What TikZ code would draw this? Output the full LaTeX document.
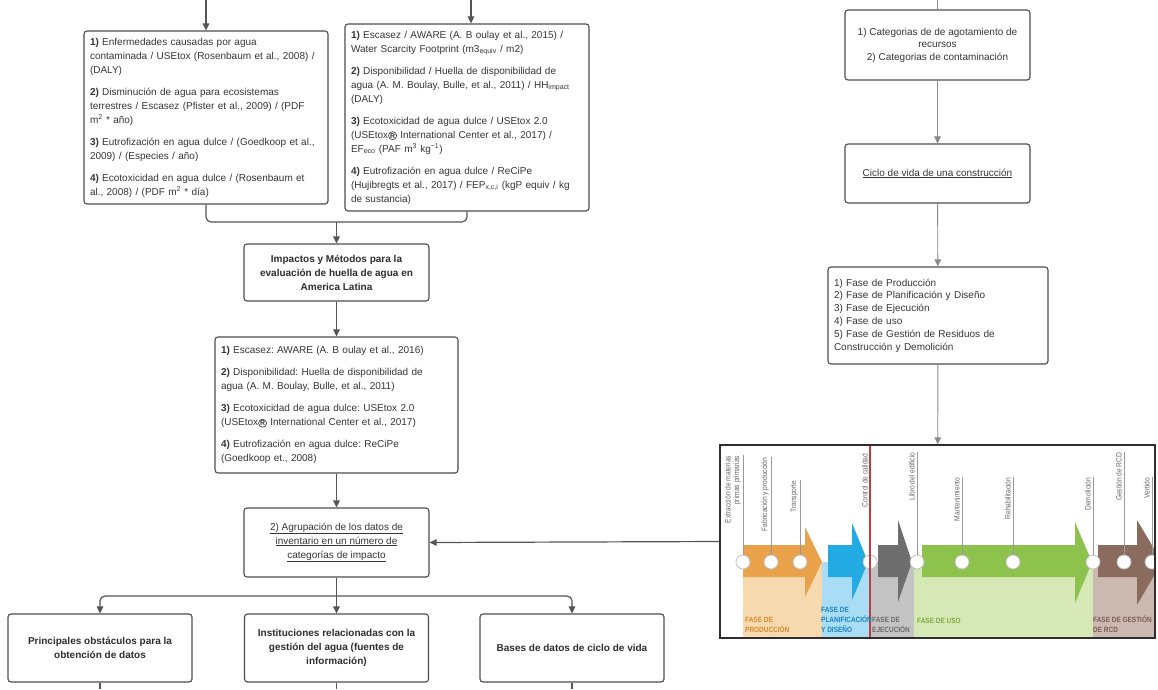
\documentclass[tikz,border=0pt]{standalone}
\usepackage{fontspec}
\setmainfont{Liberation Sans}
\newfontfamily\condfnt[FakeStretch=0.85]{Liberation Sans}
\usetikzlibrary{arrows.meta}

\definecolor{ink}{HTML}{363636}
\definecolor{boxline}{HTML}{4D4D4D}
\definecolor{conn}{HTML}{555555}
\definecolor{connlight}{HTML}{8A8A8A}
\definecolor{frameline}{HTML}{2E2E2E}
\definecolor{orangeA}{HTML}{E9A24A}
\definecolor{orangeL}{HTML}{F7D9B0}
\definecolor{orangeT}{HTML}{D98A2B}
\definecolor{blueA}{HTML}{22AAE2}
\definecolor{blueL}{HTML}{A8DDF5}
\definecolor{blueT}{HTML}{1A84C0}
\definecolor{greyA}{HTML}{6E6E6E}
\definecolor{greyL}{HTML}{C3C3C3}
\definecolor{greyT}{HTML}{6A6A6A}
\definecolor{greenA}{HTML}{8DC24C}
\definecolor{greenL}{HTML}{D5E8B6}
\definecolor{greenT}{HTML}{7DAE3E}
\definecolor{brownA}{HTML}{8A6B5E}
\definecolor{brownL}{HTML}{CBB8B1}
\definecolor{brownT}{HTML}{7A5E52}
\definecolor{redline}{HTML}{C43A3A}
\definecolor{tickc}{HTML}{9A9A9A}
\definecolor{labc}{HTML}{666666}

\newcommand{\flowfont}{\fontsize{10}{14}\selectfont}
% registered mark drawn as a circled bold R
\newcommand{\regmark}{\tikz[baseline=(rmk.base)]\node[circle, draw=ink, line width=0.6pt,
  minimum width=0pt, minimum height=0pt, text width={}, align=center, rounded corners=0pt,
  fill=none, inner sep=0.4pt, outer sep=0pt, font=\fontsize{7}{7}\selectfont\bfseries, text=ink] (rmk) {R};}

\begin{document}
\frenchspacing
\begin{tikzpicture}[x=1pt,y=-1pt,
  box/.style={draw=boxline, line width=1.1pt, rounded corners=3pt, fill=white,
    text=ink, font=\flowfont, inner ysep=3pt},
  lbox/.style={box, align=left, inner xsep=6pt},
  cbox/.style={box, align=center, inner xsep=4pt},
  titlebox/.style={cbox, font=\flowfont\bfseries, text=ink!85!black},
  arr/.style={draw=conn, line width=1.2pt, -{Triangle[length=7pt,width=6.5pt]}},
  link/.style={draw=conn, line width=1.2pt, rounded corners=5pt},
  rarr/.style={draw=connlight, line width=0.9pt, -{Triangle[length=7pt,width=6.5pt]}},
  rlink/.style={draw=connlight, line width=0.9pt},
  dot/.style={circle, draw=black!25, fill=white, line width=0.8pt, minimum size=14pt, inner sep=0pt},
  tick/.style={draw=tickc, line width=0.5pt},
  vlab/.style={rotate=90, anchor=south east, font=\condfnt\fontsize{7.8}{8.5}\selectfont,
    text=labc, align=right, inner sep=0.5pt},
  plab/.style={font=\condfnt\fontsize{7.6}{10}\selectfont\bfseries, align=left,
    inner sep=0pt, anchor=south west}
]
\useasboundingbox (0,0) rectangle (1158,689);
\fill[white] (0,0) rectangle (1158,689);

% ---------- upper left column: impact categories ----------
\node[lbox, minimum width=244pt, minimum height=173pt, text width=232pt] (enf) at (206,117.5)
{\textbf{1)} Enfermedades causadas por agua\\
contaminada / USEtox (Rosenbaum et al., 2008) /\\
(DALY)\\[8pt]
\textbf{2)} Disminución de agua para ecosistemas\\
terrestres / Escasez (Pfister et al., 2009) / (PDF\\
m\textsuperscript{2} * año)\\[8pt]
\textbf{3)} Eutrofización en agua dulce / (Goedkoop et al.,\\
2009) / (Especies / año)\\[8pt]
\textbf{4)} Ecotoxicidad en agua dulce / (Rosenbaum et\\
al., 2008) / (PDF m\textsuperscript{2} * día)};

\node[lbox, minimum width=244pt, minimum height=187pt, text width=232pt] (esc) at (467,117.5)
{\textbf{1)} Escasez / AWARE (A. B oulay et al., 2015) /\\
Water Scarcity Footprint (m3\textsubscript{equiv} / m2)\\[8pt]
\textbf{2)} Disponibilidad / Huella de disponibilidad de\\
agua (A. M. Boulay, Bulle, et al., 2011) / HH\textsubscript{impact}\\
(DALY)\\[8pt]
\textbf{3)} Ecotoxicidad de agua dulce / USEtox 2.0\\
(USEtox\regmark{} International Center et al., 2017) /\\
EF\textsubscript{eco} (PAF m\textsuperscript{3} kg\textsuperscript{−1})\\[8pt]
\textbf{4)} Eutrofización en agua dulce / ReCiPe\\
(Hujibregts et al., 2017) / FEP\textsubscript{x,c,i} (kgP equiv / kg\\
de sustancia)};

\node[titlebox, minimum width=185pt, minimum height=57pt] (imp) at (336.5,272.5)
{Impactos y Métodos para la\\evaluación de huella de agua en\\America Latina};

\node[lbox, minimum width=243pt, minimum height=136pt, text width=231pt] (lst) at (336.5,405)
{\textbf{1)} Escasez: AWARE (A. B oulay et al., 2016)\\[8pt]
\textbf{2)} Disponibilidad: Huella de disponibilidad de\\
agua (A. M. Boulay, Bulle, et al., 2011)\\[8pt]
\textbf{3)} Ecotoxicidad de agua dulce: USEtox 2.0\\
(USEtox\regmark{} International Center et al., 2017)\\[8pt]
\textbf{4)} Eutrofización en agua dulce: ReCiPe\\
(Goedkoop et., 2008)};

\node[cbox, minimum width=185pt, minimum height=69pt] (agr) at (336.5,542.5)
{\underline{2) Agrupación de los datos de}\\\underline{inventario en un número de}\\\underline{categorías de impacto}};

\node[titlebox, minimum width=184pt, minimum height=68pt] (obs) at (100,648)
{Principales obstáculos para la\\obtención de datos};
\node[titlebox, minimum width=184pt, minimum height=68pt] (ins) at (336.5,648)
{Instituciones relacionadas con la\\gestión del agua (fuentes de\\información)};
\node[titlebox, minimum width=184pt, minimum height=68pt] (bdd) at (572,648)
{Bases de datos de ciclo de vida};

% ---------- connectors of the left column ----------
\coordinate (topA) at (206,0);
\coordinate (topB) at (471,0);
\coordinate (join) at (336.5,222);
\coordinate (fork) at (336.5,596);
\coordinate (endO) at (100,689);
\coordinate (endI) at (336.5,689);
\coordinate (endB) at (572,689);

\draw[arr] (topA) -- (enf.north);
\draw[arr] (topB) -- (topB |- esc.north);
\draw[link] (enf.south) |- (join);
\draw[link] (esc.south) |- (join);
\draw[arr] (join) -- (imp.north);
\draw[arr] (imp) -- (lst);
\draw[arr] (lst) -- (agr);
\draw[link] (agr.south) -- (fork);
\draw[arr, rounded corners=5pt] (fork) -| (obs.north);
\draw[arr] (fork) -- (ins.north);
\draw[arr, rounded corners=5pt] (fork) -| (bdd.north);
\draw[link] (obs.south) -- (endO);
\draw[link] (ins.south) -- (endI);
\draw[link] (bdd.south) -- (endB);

% ---------- right column ----------
\node[cbox, minimum width=185pt, minimum height=70pt, font=\fontsize{10}{12.5}\selectfont] (cat) at (937.5,45)
{1) Categorias de de agotamiento de\\recursos\\2) Categorias de contaminación};
\node[cbox, minimum width=185pt, minimum height=59pt] (cic) at (937.5,173.5)
{\underline{Ciclo de vida de una construcción}};
\node[box, align=left, inner xsep=6pt, minimum width=220pt, minimum height=97pt, text width=208pt,
  font=\fontsize{10}{12.8}\selectfont] (fas) at (938,315.5)
{1) Fase de Producción\\
2) Fase de Planificación y Diseño\\
3) Fase de Ejecución\\
4) Fase de uso\\
5) Fase de Gestión de Residuos de\\
Construcción y Demolición};

\coordinate (topC) at (937.5,0);
\draw[rlink] (topC) -- (cat.north);
\draw[rarr] (cat) -- (cic);
\draw[rarr] (cic) -- (fas);

% ---------- life-cycle strip ----------
\begin{scope}
\clip (720,445) rectangle (1155,638);
% pale phase fields
\fill[orangeL] (743,562) rectangle (822,640);
\fill[blueL]   (822,562) rectangle (870,640);
\fill[greyL]   (870,562) rectangle (914,640);
\fill[greenL]  (914,562) rectangle (1093,640);
\fill[brownL]  (1093,562) rectangle (1160,640);
% phase arrows
\fill[orangeA] (743,545) -- (805,545) -- (805,527) -- (822,562) -- (805,597) -- (805,577) -- (743,577) -- cycle;
\fill[blueA]   (828,545) -- (852,545) -- (852,523) -- (868,562) -- (852,600) -- (852,577) -- (828,577) -- cycle;
\fill[greyA]   (878,545) -- (898,545) -- (898,520) -- (912,562) -- (898,602) -- (898,577) -- (878,577) -- cycle;
\fill[greenA]  (922,545) -- (1075,545) -- (1075,522) -- (1092,562) -- (1075,603) -- (1075,577) -- (922,577) -- cycle;
\fill[brownA]  (1098,545) -- (1137,545) -- (1137,520) -- (1162,562) -- (1137,605) -- (1137,577) -- (1098,577) -- cycle;
% milestones
\node[dot] (c1) at (743,562) {};
\node[dot] (c2) at (771,562) {};
\node[dot] (c3) at (800,562) {};
\node[dot] (c4) at (870,562) {};
\node[dot] (c5) at (917,562) {};
\node[dot] (c6) at (962,562) {};
\node[dot] (c7) at (1013,562) {};
\node[dot] (c8) at (1093,562) {};
\node[dot] (c9) at (1124,562) {};
\node[dot] (c10) at (1152,562) {};
\draw[tick] (c1.north) -- ++(0,-100);
\draw[tick] (c2.north) -- ++(0,-98);
\draw[tick] (c3.north) -- ++(0,-75);
\draw[tick] (c4.north) -- ++(0,-102);
\draw[tick] (c5.north) -- ++(0,-103);
\draw[tick] (c6.north) -- ++(0,-78);
\draw[tick] (c7.north) -- ++(0,-78);
\draw[tick] (c8.north) -- ++(0,-78);
\draw[tick] (c9.north) -- ++(0,-103);
\draw[tick] (c10.north) -- ++(0,-78);
% milestone labels
\node[vlab] (v1) at (741.5,455) {Extracción de materias\\primas primarias};
\node[vlab] (v2) at (769.5,457) {Fabricación y producción};
\node[vlab] (v3) at (798.5,480) {Transporte};
\node[vlab] (v4) at (868.5,453) {Control de calidad};
\node[vlab] (v5) at (915.5,452) {Libro del edificio};
\node[vlab] (v6) at (960.5,477) {Mantenimiento};
\node[vlab] (v7) at (1011.5,477) {Rehabilitación};
\node[vlab] (v8) at (1091.5,477) {Demolición};
\node[vlab] (v9) at (1122.5,452) {Gestión de RCD};
\node[vlab] (v10) at (1150.5,477) {Vertido};
% quality-control boundary
\draw[redline, line width=1.2pt] (870,445) -- (870,640);
% phase names
\node[plab, text=orangeT] (p1) at (745,633) {FASE DE\\PRODUCCIÓN};
\node[plab, text=blueT] (p2) at (821,633) {FASE DE\\PLANIFICACIÓN\\Y DISEÑO};
\node[plab, text=greyT] (p3) at (872,633) {FASE DE\\EJECUCIÓN};
\node[plab, text=greenT, anchor=base west] (p4) at (917,623) {FASE DE USO};
\node[plab, text=brownT] (p5) at (1093,633) {FASE DE GESTIÓN\\DE RCD};
\end{scope}
\node[draw=frameline, line width=1.4pt, minimum width=435pt, minimum height=193pt, inner sep=0pt] (tl) at (937.5,541.5) {};

\draw[rarr] (fas) -- (tl);
\draw[arr] (tl.west) -- (agr.east);
\end{tikzpicture}
\end{document}
